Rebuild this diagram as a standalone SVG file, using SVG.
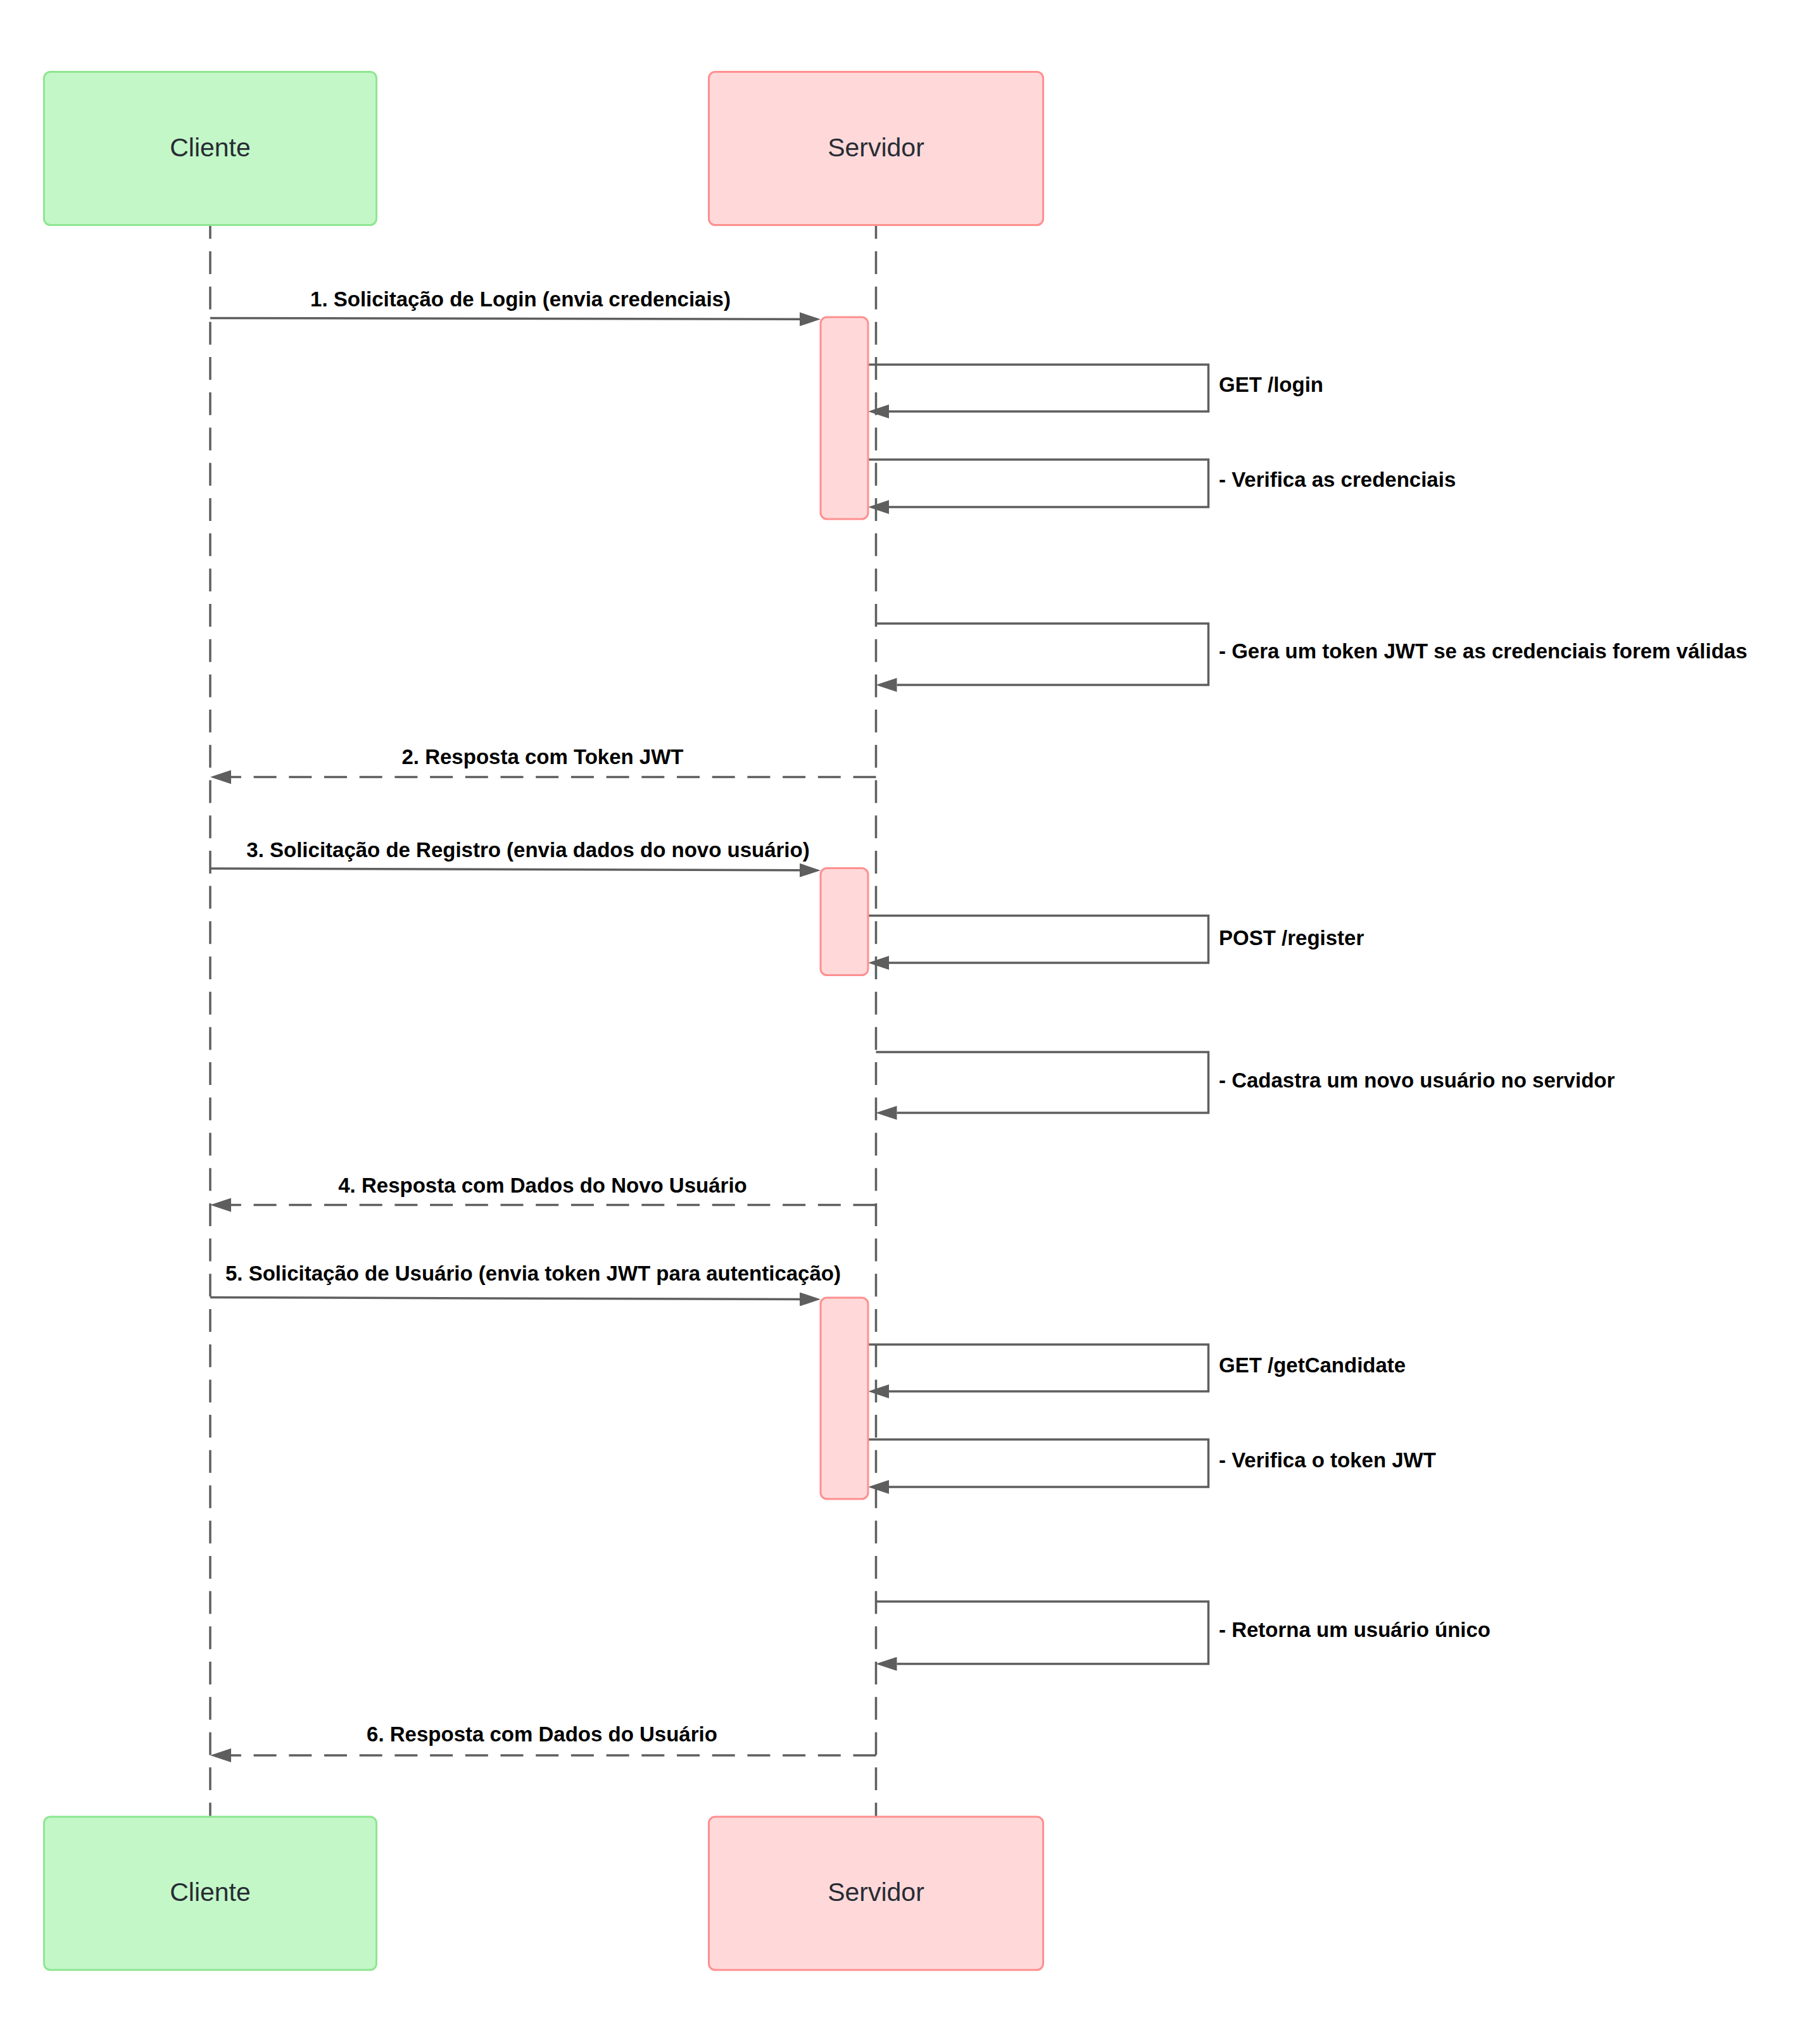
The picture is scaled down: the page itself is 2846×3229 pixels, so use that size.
<svg xmlns="http://www.w3.org/2000/svg" width="2846" height="3229" viewBox="0 0 2846 3229">
<defs>
<style>
.bg{fill:#ffffff}
.life{fill:none;stroke:#5e5e5e;stroke-width:3.5;stroke-dasharray:36 19.7}
.msg{fill:none;stroke:#5e5e5e;stroke-width:3.5;marker-end:url(#arrow)}
.dash{stroke-dasharray:36 19.7}
.cli{fill:#c3f7c8;stroke:#8ee690;stroke-width:3}
.srv{fill:#ffd9da;stroke:#ff8f8f;stroke-width:3}
.name{font-family:"Liberation Sans",Arial,sans-serif;font-size:41px;fill:#282c33;text-anchor:middle}
.lbl{font-family:"Liberation Sans",Arial,sans-serif;font-size:33px;font-weight:bold;fill:#000000}
.mid{text-anchor:middle}
</style>
<marker id="arrow" viewBox="0 0 33 22" refX="0" refY="11" markerWidth="33" markerHeight="22" markerUnits="userSpaceOnUse" orient="auto">
<path d="M0,0 L33,11 L0,22 z" fill="#5e5e5e" stroke="none"/>
</marker>
</defs>
<rect class="bg" x="0" y="0" width="2846" height="3229"/>

<g id="connectors">
<g id="lifelines">
<path class="life" d="M332,285.6 V2991"/>
<path class="life" d="M1383.5,285.6 V2991"/>
</g>
<g id="msg1">
<path class="msg" d="M332,502.5 L1263,504.3"/>
<text class="lbl mid" x="822" y="484">1. Solicitação de Login (envia credenciais)</text>
</g>
<g id="loop-get-login">
<path class="msg" d="M1371,576 H1908.5 V650 H1404"/>
<text class="lbl" x="1925" y="619">GET /login</text>
</g>
<g id="loop-verifica-credenciais">
<path class="msg" d="M1371,726 H1908.5 V801 H1404"/>
<text class="lbl" x="1925" y="769">- Verifica as credenciais</text>
</g>
<g id="loop-gera-token">
<path class="msg" d="M1383.5,985 H1908.5 V1082 H1416.5"/>
<text class="lbl" x="1925" y="1040">- Gera um token JWT se as credenciais forem válidas</text>
</g>
<g id="msg2">
<path class="msg dash" d="M1383.5,1227.5 H365"/>
<text class="lbl mid" x="857" y="1207">2. Resposta com Token JWT</text>
</g>
<g id="msg3">
<path class="msg" d="M332,1372 L1263,1374.8"/>
<text class="lbl mid" x="834" y="1354">3. Solicitação de Registro (envia dados do novo usuário)</text>
</g>
<g id="loop-post-register">
<path class="msg" d="M1371,1446.5 H1908.5 V1521 H1404"/>
<text class="lbl" x="1925" y="1493">POST /register</text>
</g>
<g id="loop-cadastra">
<path class="msg" d="M1383.5,1662 H1908.5 V1758 H1416.5"/>
<text class="lbl" x="1925" y="1718">- Cadastra um novo usuário no servidor</text>
</g>
<g id="msg4">
<path class="msg dash" d="M1383.5,1903.5 H365"/>
<text class="lbl mid" x="857" y="1884">4. Resposta com Dados do Novo Usuário</text>
</g>
<g id="msg5">
<path class="msg" d="M332,2049.5 L1263,2052.5"/>
<text class="lbl mid" x="842" y="2023">5. Solicitação de Usuário (envia token JWT para autenticação)</text>
</g>
<g id="loop-get-candidate">
<path class="msg" d="M1371,2124 H1908.5 V2198 H1404"/>
<text class="lbl" x="1925" y="2168">GET /getCandidate</text>
</g>
<g id="loop-verifica-token">
<path class="msg" d="M1371,2274 H1908.5 V2349 H1404"/>
<text class="lbl" x="1925" y="2318">- Verifica o token JWT</text>
</g>
<g id="loop-retorna">
<path class="msg" d="M1383.5,2530 H1908.5 V2628.5 H1416.5"/>
<text class="lbl" x="1925" y="2586">- Retorna um usuário único</text>
</g>
<g id="msg6">
<path class="msg dash" d="M1383.5,2773 H365"/>
<text class="lbl mid" x="856" y="2751">6. Resposta com Dados do Usuário</text>
</g>
</g>

<g id="activation-1"><rect class="srv" x="1296" y="501" width="75" height="319" rx="10"/></g>
<g id="activation-2"><rect class="srv" x="1296" y="1371.5" width="75" height="169" rx="10"/></g>
<g id="activation-3"><rect class="srv" x="1296" y="2050" width="75" height="318" rx="10"/></g>

<g id="cliente-top">
<rect class="cli" x="69.5" y="113.5" width="525" height="242" rx="10"/>
<text class="name" x="332" y="247">Cliente</text>
</g>
<g id="servidor-top">
<rect class="srv" x="1119.5" y="113.5" width="528" height="242" rx="10"/>
<text class="name" x="1383.5" y="247">Servidor</text>
</g>
<g id="cliente-bottom">
<rect class="cli" x="69.5" y="2870" width="525" height="242" rx="10"/>
<text class="name" x="332" y="3003">Cliente</text>
</g>
<g id="servidor-bottom">
<rect class="srv" x="1119.5" y="2870" width="528" height="242" rx="10"/>
<text class="name" x="1383.5" y="3003">Servidor</text>
</g>
</svg>
